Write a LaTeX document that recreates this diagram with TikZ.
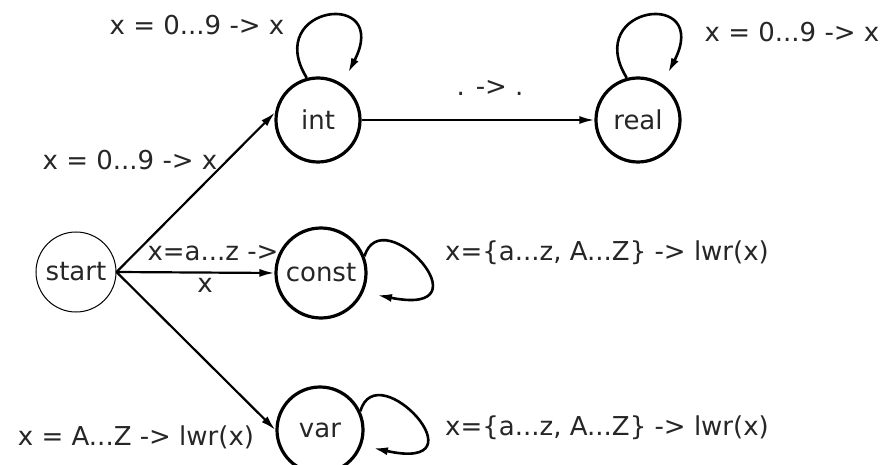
\documentclass[tikz,border=0pt]{standalone}
\usepackage{fontspec}
\setmainfont{DejaVu Sans}
\usetikzlibrary{arrows.meta}
\begin{document}
\begin{tikzpicture}[x=1pt,y=-1pt,
  every node/.style={font=\fontsize{26}{32}\selectfont, text=black!85},
  state/.style={circle, draw=black, line width=3.2pt, inner sep=0pt},
  startstate/.style={circle, draw=black, line width=1pt, inner sep=0pt},
  lab/.style={inner sep=0pt, anchor=center},
  arr/.style={line width=2.2pt, -{Latex[length=15pt,width=8pt]}},
  looparr/.style={line width=2.6pt, -{Latex[length=15pt,width=8pt]}}]
\useasboundingbox (0,0) rectangle (887,465);
% states
\node[startstate, minimum size=80pt] (start) at (76,272) {start};
\node[state, minimum size=84pt] (int) at (318,120) {int};
\node[state, minimum size=84pt] (real) at (638,120) {real};
\node[state, minimum size=90pt] (const) at (321,273) {const};
\node[state, minimum size=86pt] (var) at (320,430) {var};
% loop ends
\coordinate (intle) at (348,73);
\coordinate (realle) at (668,73);
\coordinate (constle) at (377,295);
\coordinate (varle) at (373,448);
% transitions
\draw[arr] (start.east) -- (int.170);
\draw[arr] (start.east) -- (const.west);
\draw[arr] (start.east) -- (var.west);
\draw[arr] (int.east) -- (real.west);
% loops
\draw[looparr] (int.105) .. controls (262,5) and (392,-12) .. (intle);
\draw[looparr] (real.105) .. controls (582,5) and (712,-12) .. (realle);
\draw[looparr] (const.21) .. controls (382,198) and (492,318) .. (constle);
\draw[looparr] (var.25) .. controls (377,353) and (487,473) .. (varle);
% labels
\node[lab] (l1) at (197,25) {x = 0...9 -> x};
\node[lab] (l2) at (130,160) {x = 0...9 -> x};
\node[lab] (l3) at (490,88) {. -> .};
\node[lab] (l4) at (792,32) {x = 0...9 -> x};
\node[lab] (l5) at (213,253) {x=a...z ->};
\node[lab] (l5b) at (205,285) {x};
\node[lab] (l6) at (136,437) {x = A...Z -> lwr(x)};
\node[lab] (l7) at (607,253) {x=\{a...z, A...Z\} -> lwr(x)};
\node[lab] (l8) at (607,428) {x=\{a...z, A...Z\} -> lwr(x)};
\end{tikzpicture}
\end{document}
